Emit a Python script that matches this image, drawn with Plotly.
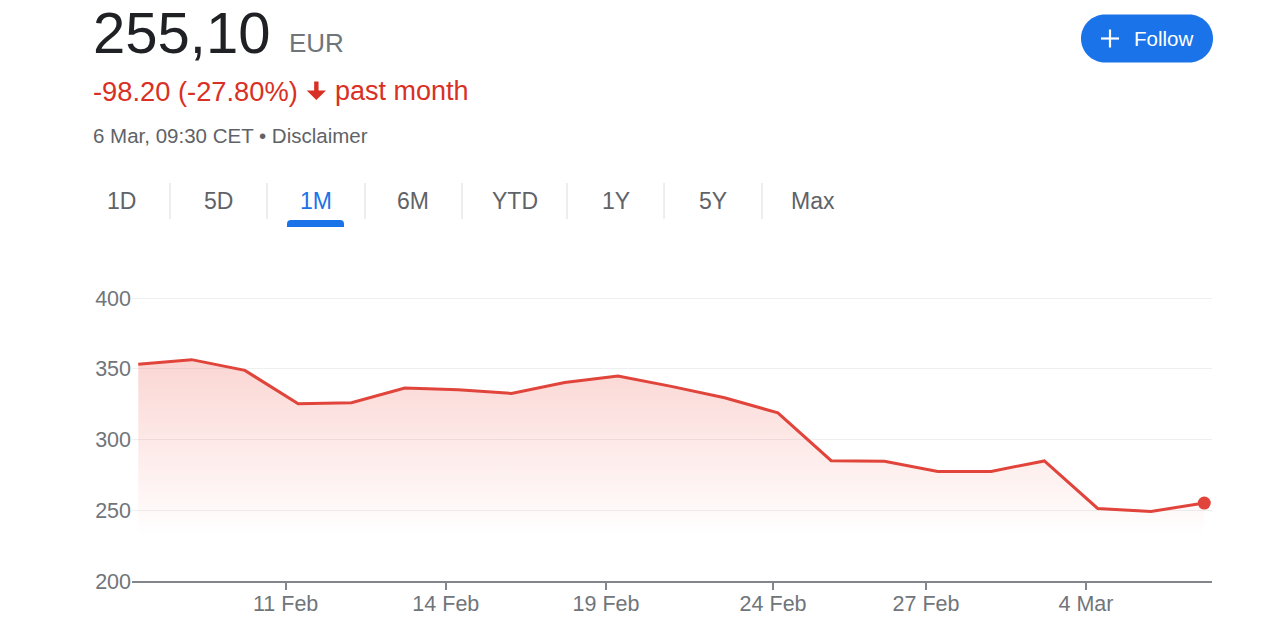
import plotly.graph_objects as go

# ---- data ----
dates = ["6 Feb", "7 Feb", "10 Feb", "11 Feb", "12 Feb", "13 Feb", "14 Feb",
         "17 Feb", "18 Feb", "19 Feb", "20 Feb", "21 Feb", "24 Feb", "25 Feb",
         "26 Feb", "27 Feb", "28 Feb", "3 Mar", "4 Mar", "5 Mar", "6 Mar"]
prices = [353.3, 356.5, 348.9, 325.3, 326.0, 336.4, 335.3, 332.6, 340.4, 344.9,
          337.6, 329.6, 318.9, 285.1, 284.6, 277.5, 277.5, 284.9, 251.3, 249.2, 255.1]
tick_labels = ["11 Feb", "14 Feb", "19 Feb", "24 Feb", "27 Feb", "4 Mar"]
y_ticks = [200, 250, 300, 350, 400]
tabs = ["1D", "5D", "1M", "6M", "YTD", "1Y", "5Y", "Max"]
active_tab = "1M"
price_text = "255,10"
currency = "EUR"
change_text = "-98.20 (-27.80%)"
period_text = "past month"
stamp_text = "6 Mar, 09:30 CET • Disclaimer"

# ---- layout constants ----
W, H = 1280, 625
ML, MR, MT, MB = 132, 68, 296, 44
PW, PH = W - ML - MR, H - MT - MB
FONT = "Liberation Sans, Arial, sans-serif"
RED_LINE = "#e0443a"
RED_TEXT = "#d93025"
BLUE = "#1a73e8"
GREY = "#70757a"

def px(x):
    return (x - ML) / PW

def py(y):
    return (H - MB - y) / PH

x_idx = list(range(len(dates)))
tick_shift = [0.235, 0.23, 0.225, 0.09, 0.22, 0.22]
tick_pos = [dates.index(t) - s for t, s in zip(tick_labels, tick_shift)]

fig = go.Figure()
fig.add_trace(go.Scatter(
    x=x_idx, y=prices, mode="lines",
    line=dict(color=RED_LINE, width=3),
    fill="tozeroy",
    fillgradient=dict(type="vertical", start=232, stop=357,
                      colorscale=[[0, "rgba(234,67,53,0)"], [1, "rgba(234,67,53,0.22)"]]),
    hoverinfo="skip", showlegend=False,
))
fig.add_trace(go.Scatter(
    x=[x_idx[-1]], y=[prices[-1]], mode="markers",
    marker=dict(color=RED_LINE, size=13),
    hoverinfo="skip", showlegend=False, cliponaxis=False,
))

ann = []
shapes = []

def text(t, x, y, size, color, xanchor="left"):
    ann.append(dict(text=t, x=px(x), y=py(y), xref="paper", yref="paper",
                    xanchor=xanchor, yanchor="middle", showarrow=False,
                    font=dict(family=FONT, size=size, color=color)))

text(price_text, 91, 32, 58, "#202124")
text(currency, 287, 43, 26, GREY)
text(change_text, 91, 91, 27.3, RED_TEXT)
text(period_text, 333, 91, 27, RED_TEXT)
text(stamp_text, 91, 135, 20.5, "#5f6368")

# down arrow
ax0, ax1, ay0, ay1 = 306.7, 326.0, 81.5, 100.0
cx = (ax0 + ax1) / 2
sw = 2.2
hy = 90.5
arrow_pts = [(cx - sw, ay0), (cx + sw, ay0), (cx + sw, hy), (ax1, hy), (cx, ay1),
             (ax0, hy), (cx - sw, hy)]
path = "M " + " L ".join(f"{px(a):.5f},{py(b):.5f}" for a, b in arrow_pts) + " Z"
shapes.append(dict(type="path", path=path, xref="paper", yref="paper",
                   fillcolor=RED_TEXT, line=dict(width=0)))

# tabs
tab_centers = [121, 218, 316, 413, 515, 616, 713, 813]
seps = [170, 267, 365, 462, 567, 664, 762]
for t, c in zip(tabs, tab_centers):
    text(t, c, 201, 23, BLUE if t == active_tab else "#5f6368", xanchor="center")
for s in seps:
    shapes.append(dict(type="line", xref="paper", yref="paper",
                       x0=px(s), x1=px(s), y0=py(183), y1=py(219),
                       line=dict(color="#dadce0", width=1)))
ac = tab_centers[tabs.index(active_tab)]
ux0, ux1, uy0, uy1, r = ac - 29, ac + 28, 220, 227, 4
upts = (f"M {px(ux0):.5f},{py(uy1):.5f} L {px(ux0):.5f},{py(uy0 + r):.5f} "
        f"Q {px(ux0):.5f},{py(uy0):.5f} {px(ux0 + r):.5f},{py(uy0):.5f} "
        f"L {px(ux1 - r):.5f},{py(uy0):.5f} "
        f"Q {px(ux1):.5f},{py(uy0):.5f} {px(ux1):.5f},{py(uy0 + r):.5f} "
        f"L {px(ux1):.5f},{py(uy1):.5f} Z")
shapes.append(dict(type="path", path=upts, xref="paper", yref="paper",
                   fillcolor=BLUE, line=dict(width=0)))

# follow button (pill)
bx0, bx1, by0, by1 = 1081, 1213, 14.5, 62.5
rr = (by1 - by0) / 2
k = 0.5523 * rr
P = lambda a, b: f"{px(a):.5f},{py(b):.5f}"
pill = (f"M {P(bx0 + rr, by0)} L {P(bx1 - rr, by0)} "
        f"C {P(bx1 - rr + k, by0)} {P(bx1, by0 + rr - k)} {P(bx1, by0 + rr)} "
        f"C {P(bx1, by1 - rr + k)} {P(bx1 - rr + k, by1)} {P(bx1 - rr, by1)} "
        f"L {P(bx0 + rr, by1)} "
        f"C {P(bx0 + rr - k, by1)} {P(bx0, by1 - rr + k)} {P(bx0, by0 + rr)} "
        f"C {P(bx0, by0 + rr - k)} {P(bx0 + rr - k, by0)} {P(bx0 + rr, by0)} Z")
shapes.append(dict(type="path", path=pill, xref="paper", yref="paper",
                   fillcolor=BLUE, line=dict(width=0)))
# plus sign
pcx, pcy, ph = 1110, 38.5, 9
shapes.append(dict(type="line", xref="paper", yref="paper",
                   x0=px(pcx - ph), x1=px(pcx + ph), y0=py(pcy), y1=py(pcy),
                   line=dict(color="white", width=2.2)))
shapes.append(dict(type="line", xref="paper", yref="paper",
                   x0=px(pcx), x1=px(pcx), y0=py(pcy - ph), y1=py(pcy + ph),
                   line=dict(color="white", width=2.2)))
text("Follow", 1132, 38.5, 20.5, "white")

fig.update_layout(
    width=W, height=H,
    margin=dict(l=ML, r=MR, t=MT, b=MB, autoexpand=False),
    paper_bgcolor="white", plot_bgcolor="white",
    font=dict(family=FONT, color=GREY),
    annotations=ann, shapes=shapes,
    hovermode=False,
    xaxis=dict(range=[-0.118, 20.145], tickvals=tick_pos, ticktext=tick_labels,
               showgrid=False, zeroline=False, showline=True, automargin=False,
               linecolor="#80868b", linewidth=1.5,
               ticks="outside", ticklen=7, tickwidth=1.5, tickcolor="#80868b",
               ticklabelstandoff=-5,
               tickfont=dict(size=21.5, color=GREY, family=FONT), fixedrange=True),
    yaxis=dict(range=[200, 401.5], tickvals=y_ticks, showgrid=True, automargin=False,
               gridcolor="#eeeff0", gridwidth=1, zeroline=False, showline=False,
               ticks="", tickfont=dict(size=21.5, color=GREY, family=FONT),
               fixedrange=True),
)

fig.write_html("out.html", config={"displayModeBar": False})
